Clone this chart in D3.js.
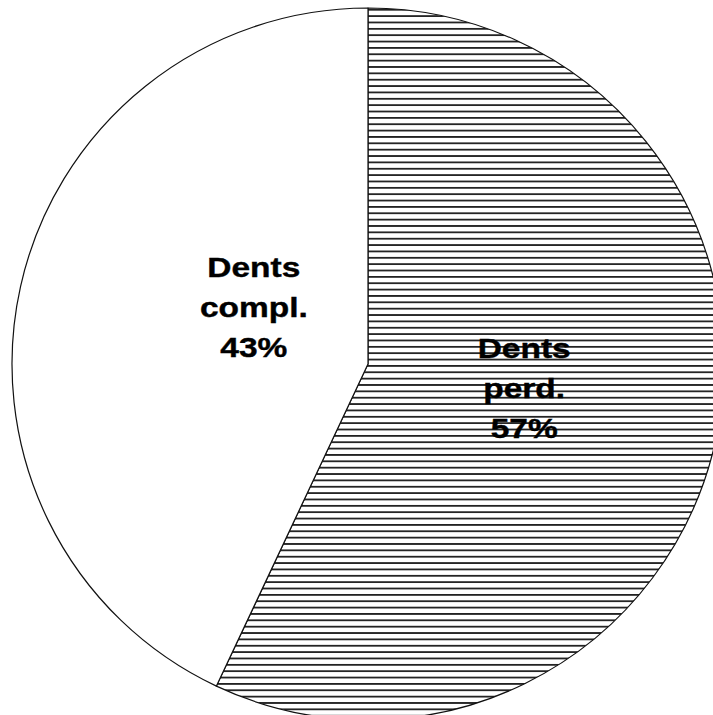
<!DOCTYPE html>
<html>
<head>
<meta charset="utf-8">
<script src="https://cdn.jsdelivr.net/npm/d3@7"></script>
<style>
  html, body { margin: 0; padding: 0; background: #fff; }
  svg { display: block; }
</style>
</head>
<body>
<svg id="chart" width="713" height="715"></svg>
<script>
// Data
const categories = ["Dents perd.", "Dents compl."];
const labelLines = [["Dents", "perd."], ["Dents", "compl."]];
const values = [57, 43];
const fills = ["hatch", "white"];

const W = 713, H = 715;
const cx = 368, cy = 364, R = 356;

const svg = d3.select("#chart");
svg.append("rect").attr("width", W).attr("height", H).attr("fill", "#fff");

// Horizontal hatch pattern
const defs = svg.append("defs");
const period = 6.36;
const pat = defs.append("pattern")
  .attr("id", "hatch")
  .attr("patternUnits", "userSpaceOnUse")
  .attr("width", 20).attr("height", period)
  .attr("y", 1);
pat.append("rect").attr("width", 20).attr("height", period).attr("fill", "#fff");
pat.append("rect").attr("x", 0).attr("y", 0).attr("width", 20).attr("height", 1.8).attr("fill", "#222");

const pie = d3.pie().sort(null).value(d => d).startAngle(0).endAngle(2 * Math.PI);
const arcs = pie(values);
const arc = d3.arc().innerRadius(0).outerRadius(R);

const g = svg.append("g").attr("transform", `translate(${cx},${cy})`);

g.selectAll("path.slice")
  .data(arcs)
  .enter().append("path")
  .attr("class", "slice")
  .attr("d", arc)
  .attr("fill", (d, i) => fills[i] === "hatch" ? "url(#hatch)" : "#fff")
  .attr("stroke", "#111")
  .attr("stroke-width", 1.2)
  .attr("stroke-linejoin", "round");

// Labels
const labelArc = [
  d3.arc().innerRadius(160).outerRadius(160),
  d3.arc().innerRadius(117).outerRadius(117)
];
const labelShift = [[0, -11], [0, -31]];
const lineH = 40;

arcs.forEach((a, i) => {
  const [x0, y0] = labelArc[i].centroid(a);
  const x = x0 + labelShift[i][0];
  const y = y0 + labelShift[i][1];
  const pct = Math.round(a.data / d3.sum(values) * 100) + "%";
  const lines = labelLines[i].concat([pct]);
  const t = g.append("g").attr("transform", `translate(${x},${y}) scale(1.24,1)`);
  lines.forEach((ln, k) => {
    t.append("text")
      .attr("x", 0)
      .attr("y", (k - 1) * lineH + 10)
      .attr("text-anchor", "middle")
      .attr("font-family", "Liberation Sans, Arial, sans-serif")
      .attr("font-weight", "bold")
      .attr("font-size", 27)
      .attr("fill", "#000")
      .attr("stroke", "#000")
      .attr("stroke-width", 0.4)
      .text(ln);
  });
});
</script>
</body>
</html>
